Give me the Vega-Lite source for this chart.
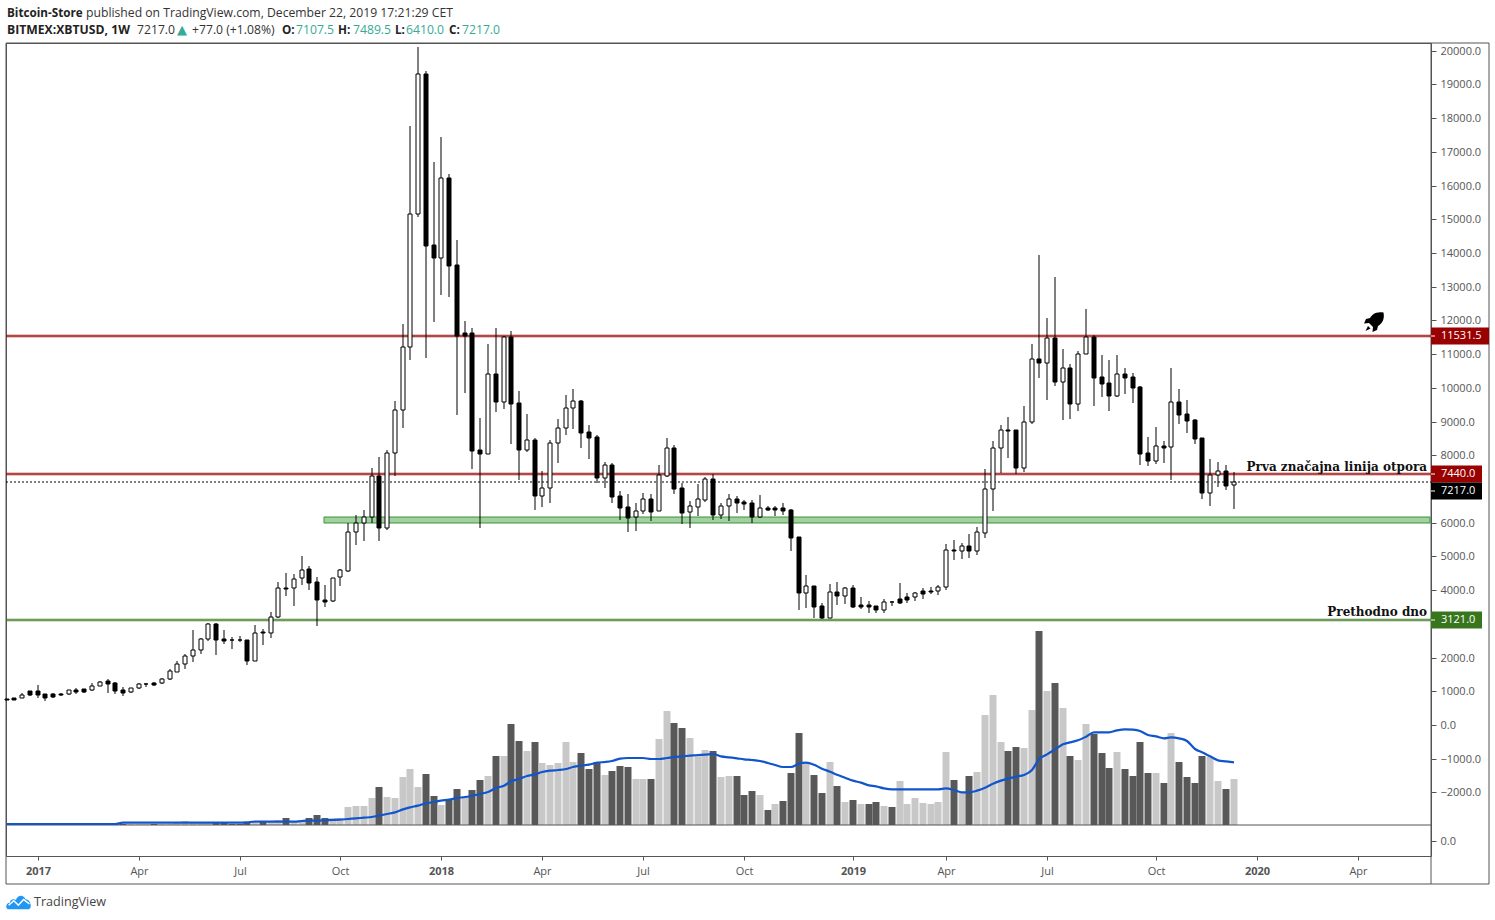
{"$schema":"https://vega.github.io/schema/vega-lite/v6.json","autosize":{"type":"none"},"padding":{"left":6,"top":43,"right":64,"bottom":64},"width":1425,"height":813,"background":"#ffffff","config":{"view":{"stroke":"#555555","strokeWidth":1},"axis":{"labelFont":"Open Sans","labelColor":"#555555","labelFontSize":11,"tickColor":"#555555","grid":false,"domain":false,"title":null}},
"datasets":{"weeks":[
{"date":"2016-12-05","open":770,"high":770,"low":750,"close":750,"volume":1,"ma":3,"side":"down"},
{"date":"2016-12-12","open":790,"high":790,"low":751,"close":751,"volume":1,"ma":3,"side":"down"},
{"date":"2016-12-19","open":790,"high":949,"low":790,"close":900,"volume":1,"ma":3,"side":"up"},
{"date":"2016-12-26","open":998,"high":1018,"low":870,"close":889,"volume":2,"ma":3,"side":"down"},
{"date":"2017-01-02","open":998,"high":1186,"low":800,"close":899,"volume":2,"ma":3,"side":"down"},
{"date":"2017-01-09","open":909,"high":909,"low":721,"close":800,"volume":1,"ma":3,"side":"down"},
{"date":"2017-01-16","open":909,"high":939,"low":800,"close":820,"volume":1,"ma":3,"side":"down"},
{"date":"2017-01-23","open":929,"high":959,"low":860,"close":889,"volume":1,"ma":3,"side":"down"},
{"date":"2017-01-30","open":909,"high":1048,"low":899,"close":1028,"volume":2,"ma":3,"side":"up"},
{"date":"2017-02-06","open":1028,"high":1087,"low":929,"close":988,"volume":2,"ma":3,"side":"down"},
{"date":"2017-02-13","open":1057,"high":1067,"low":959,"close":988,"volume":1,"ma":3,"side":"down"},
{"date":"2017-02-20","open":1048,"high":1235,"low":1018,"close":1166,"volume":2,"ma":3,"side":"up"},
{"date":"2017-02-27","open":1166,"high":1305,"low":1156,"close":1285,"volume":3,"ma":3,"side":"up"},
{"date":"2017-03-06","open":1295,"high":1364,"low":949,"close":1225,"volume":3,"ma":3,"side":"down"},
{"date":"2017-03-13","open":1235,"high":1265,"low":919,"close":1018,"volume":3,"ma":3,"side":"down"},
{"date":"2017-03-20","open":1028,"high":1117,"low":870,"close":959,"volume":3,"ma":7,"side":"down"},
{"date":"2017-03-27","open":968,"high":1107,"low":959,"close":1087,"volume":3,"ma":7,"side":"up"},
{"date":"2017-04-03","open":1087,"high":1235,"low":1077,"close":1206,"volume":4,"ma":7,"side":"up"},
{"date":"2017-04-10","open":1206,"high":1255,"low":1117,"close":1225,"volume":4,"ma":7,"side":"up"},
{"date":"2017-04-17","open":1245,"high":1285,"low":1166,"close":1196,"volume":4,"ma":7,"side":"down"},
{"date":"2017-04-24","open":1235,"high":1394,"low":1225,"close":1374,"volume":3,"ma":7,"side":"up"},
{"date":"2017-05-01","open":1374,"high":1660,"low":1334,"close":1591,"volume":4,"ma":7,"side":"up"},
{"date":"2017-05-08","open":1581,"high":1888,"low":1571,"close":1799,"volume":5,"ma":7,"side":"up"},
{"date":"2017-05-15","open":1799,"high":2096,"low":1670,"close":2036,"volume":13,"ma":7,"side":"up"},
{"date":"2017-05-22","open":2036,"high":2817,"low":1878,"close":2214,"volume":5,"ma":7,"side":"up"},
{"date":"2017-05-29","open":2214,"high":2570,"low":2105,"close":2540,"volume":5,"ma":7,"side":"up"},
{"date":"2017-06-05","open":2540,"high":3025,"low":2501,"close":2985,"volume":6,"ma":7,"side":"up"},
{"date":"2017-06-12","open":2985,"high":3025,"low":2076,"close":2531,"volume":9,"ma":7,"side":"down"},
{"date":"2017-06-19","open":2550,"high":2817,"low":2402,"close":2501,"volume":5,"ma":7,"side":"down"},
{"date":"2017-06-26","open":2521,"high":2610,"low":2254,"close":2511,"volume":4,"ma":7,"side":"down"},
{"date":"2017-07-03","open":2521,"high":2639,"low":2471,"close":2511,"volume":4,"ma":7,"side":"down"},
{"date":"2017-07-10","open":2511,"high":2511,"low":1789,"close":1908,"volume":7,"ma":8,"side":"down"},
{"date":"2017-07-17","open":1908,"high":2956,"low":1908,"close":2738,"volume":6,"ma":10,"side":"up"},
{"date":"2017-07-24","open":2748,"high":2847,"low":2372,"close":2718,"volume":8,"ma":10,"side":"down"},
{"date":"2017-07-31","open":2718,"high":3341,"low":2590,"close":3213,"volume":8,"ma":10,"side":"up"},
{"date":"2017-08-07","open":3213,"high":4231,"low":3183,"close":4073,"volume":16,"ma":10,"side":"up"},
{"date":"2017-08-14","open":4073,"high":4508,"low":3826,"close":4043,"volume":22,"ma":10,"side":"down"},
{"date":"2017-08-21","open":4053,"high":4468,"low":3529,"close":4340,"volume":8,"ma":10,"side":"up"},
{"date":"2017-08-28","open":4350,"high":5002,"low":4162,"close":4607,"volume":8,"ma":12,"side":"up"},
{"date":"2017-09-04","open":4617,"high":4706,"low":4004,"close":4221,"volume":22,"ma":13,"side":"down"},
{"date":"2017-09-11","open":4231,"high":4389,"low":2936,"close":3697,"volume":31,"ma":13,"side":"down"},
{"date":"2017-09-18","open":3697,"high":4152,"low":3509,"close":3658,"volume":22,"ma":14,"side":"down"},
{"date":"2017-09-25","open":3668,"high":4370,"low":3658,"close":4370,"volume":22,"ma":15,"side":"up"},
{"date":"2017-10-02","open":4379,"high":4617,"low":4132,"close":4587,"volume":22,"ma":16,"side":"up"},
{"date":"2017-10-09","open":4577,"high":5999,"low":4538,"close":5714,"volume":55,"ma":18,"side":"up"},
{"date":"2017-10-16","open":5714,"high":6228,"low":5339,"close":5981,"volume":58,"ma":20,"side":"up"},
{"date":"2017-10-23","open":5981,"high":6376,"low":5457,"close":6159,"volume":58,"ma":22,"side":"up"},
{"date":"2017-10-30","open":6159,"high":7622,"low":5999,"close":7375,"volume":82,"ma":24,"side":"up"},
{"date":"2017-11-06","open":7375,"high":7938,"low":5457,"close":5852,"volume":115,"ma":28,"side":"down"},
{"date":"2017-11-13","open":5852,"high":8156,"low":5783,"close":8057,"volume":85,"ma":33,"side":"up"},
{"date":"2017-11-20","open":8057,"high":9609,"low":7395,"close":9332,"volume":82,"ma":38,"side":"up"},
{"date":"2017-11-27","open":9332,"high":11893,"low":8818,"close":11201,"volume":145,"ma":47,"side":"up"},
{"date":"2017-12-04","open":11201,"high":17766,"low":10825,"close":15146,"volume":169,"ma":53,"side":"up"},
{"date":"2017-12-11","open":15146,"high":20099,"low":15076,"close":19298,"volume":115,"ma":58,"side":"up"},
{"date":"2017-12-18","open":19298,"high":19387,"low":10895,"close":14216,"volume":154,"ma":65,"side":"down"},
{"date":"2017-12-25","open":14226,"high":16698,"low":11962,"close":13860,"volume":88,"ma":69,"side":"down"},
{"date":"2018-01-01","open":13860,"high":17430,"low":12763,"close":16214,"volume":61,"ma":73,"side":"up"},
{"date":"2018-01-08","open":16214,"high":16342,"low":12704,"close":13623,"volume":76,"ma":76,"side":"down"},
{"date":"2018-01-15","open":13643,"high":14384,"low":9194,"close":11547,"volume":109,"ma":81,"side":"down"},
{"date":"2018-01-22","open":11626,"high":11982,"low":9856,"close":11547,"volume":84,"ma":84,"side":"up"},
{"date":"2018-01-29","open":11626,"high":11774,"low":7592,"close":8136,"volume":106,"ma":88,"side":"down"},
{"date":"2018-02-05","open":8156,"high":9105,"low":5852,"close":8047,"volume":136,"ma":93,"side":"down"},
{"date":"2018-02-12","open":8047,"high":11300,"low":8047,"close":10400,"volume":148,"ma":99,"side":"up"},
{"date":"2018-02-19","open":10400,"high":11774,"low":9293,"close":9589,"volume":208,"ma":111,"side":"down"},
{"date":"2018-02-26","open":9589,"high":11537,"low":9372,"close":11508,"volume":208,"ma":118,"side":"up"},
{"date":"2018-03-05","open":11508,"high":11686,"low":8334,"close":9530,"volume":304,"ma":131,"side":"down"},
{"date":"2018-03-12","open":9540,"high":9906,"low":7266,"close":8166,"volume":253,"ma":138,"side":"down"},
{"date":"2018-03-19","open":8166,"high":9224,"low":8106,"close":8443,"volume":223,"ma":147,"side":"up"},
{"date":"2018-03-26","open":8443,"high":8512,"low":6376,"close":6801,"volume":250,"ma":152,"side":"down"},
{"date":"2018-04-02","open":6801,"high":7533,"low":6475,"close":7019,"volume":187,"ma":159,"side":"up"},
{"date":"2018-04-09","open":7019,"high":8452,"low":6594,"close":8354,"volume":181,"ma":163,"side":"up"},
{"date":"2018-04-16","open":8354,"high":9075,"low":7770,"close":8798,"volume":187,"ma":165,"side":"up"},
{"date":"2018-04-23","open":8798,"high":9787,"low":8601,"close":9392,"volume":250,"ma":168,"side":"up"},
{"date":"2018-04-30","open":9392,"high":9965,"low":8779,"close":9599,"volume":190,"ma":174,"side":"up"},
{"date":"2018-05-07","open":9599,"high":9639,"low":8215,"close":8670,"volume":217,"ma":178,"side":"down"},
{"date":"2018-05-14","open":8680,"high":8897,"low":7889,"close":8522,"volume":169,"ma":181,"side":"down"},
{"date":"2018-05-21","open":8541,"high":8601,"low":7167,"close":7335,"volume":190,"ma":187,"side":"down"},
{"date":"2018-05-28","open":7335,"high":7790,"low":7029,"close":7701,"volume":151,"ma":189,"side":"up"},
{"date":"2018-06-04","open":7701,"high":7760,"low":6594,"close":6772,"volume":163,"ma":192,"side":"down"},
{"date":"2018-06-11","open":6792,"high":6940,"low":6080,"close":6446,"volume":178,"ma":199,"side":"down"},
{"date":"2018-06-18","open":6456,"high":6851,"low":5734,"close":6149,"volume":175,"ma":201,"side":"down"},
{"date":"2018-06-25","open":6159,"high":6574,"low":5764,"close":6337,"volume":139,"ma":201,"side":"up"},
{"date":"2018-07-02","open":6337,"high":6881,"low":6268,"close":6693,"volume":139,"ma":201,"side":"up"},
{"date":"2018-07-09","open":6693,"high":6851,"low":6050,"close":6327,"volume":139,"ma":198,"side":"down"},
{"date":"2018-07-16","open":6337,"high":7701,"low":6337,"close":7405,"volume":259,"ma":198,"side":"up"},
{"date":"2018-07-23","open":7395,"high":8502,"low":7365,"close":8206,"volume":343,"ma":201,"side":"up"},
{"date":"2018-07-30","open":8206,"high":8295,"low":6861,"close":7009,"volume":307,"ma":204,"side":"down"},
{"date":"2018-08-06","open":7019,"high":7167,"low":5971,"close":6297,"volume":292,"ma":206,"side":"down"},
{"date":"2018-08-13","open":6307,"high":6643,"low":5852,"close":6485,"volume":262,"ma":208,"side":"up"},
{"date":"2018-08-20","open":6475,"high":7138,"low":6199,"close":6693,"volume":208,"ma":210,"side":"up"},
{"date":"2018-08-27","open":6683,"high":7345,"low":6624,"close":7286,"volume":226,"ma":211,"side":"up"},
{"date":"2018-09-03","open":7286,"high":7434,"low":6090,"close":6238,"volume":223,"ma":213,"side":"down"},
{"date":"2018-09-10","open":6238,"high":6574,"low":6119,"close":6485,"volume":145,"ma":206,"side":"up"},
{"date":"2018-09-17","open":6485,"high":6851,"low":6060,"close":6693,"volume":148,"ma":203,"side":"up"},
{"date":"2018-09-24","open":6693,"high":6782,"low":6297,"close":6594,"volume":148,"ma":200,"side":"down"},
{"date":"2018-10-01","open":6614,"high":6673,"low":6386,"close":6564,"volume":91,"ma":197,"side":"down"},
{"date":"2018-10-08","open":6574,"high":6673,"low":5999,"close":6179,"volume":103,"ma":195,"side":"down"},
{"date":"2018-10-15","open":6179,"high":6812,"low":6149,"close":6426,"volume":91,"ma":192,"side":"up"},
{"date":"2018-10-22","open":6426,"high":6495,"low":6347,"close":6376,"volume":46,"ma":186,"side":"down"},
{"date":"2018-10-29","open":6426,"high":6495,"low":6199,"close":6386,"volume":64,"ma":180,"side":"up"},
{"date":"2018-11-05","open":6426,"high":6574,"low":6238,"close":6357,"volume":73,"ma":174,"side":"down"},
{"date":"2018-11-12","open":6367,"high":6406,"low":5170,"close":5556,"volume":157,"ma":174,"side":"down"},
{"date":"2018-11-19","open":5576,"high":5576,"low":3410,"close":3925,"volume":277,"ma":184,"side":"down"},
{"date":"2018-11-26","open":3925,"high":4449,"low":3480,"close":4112,"volume":187,"ma":187,"side":"up"},
{"date":"2018-12-03","open":4112,"high":4112,"low":3173,"close":3509,"volume":151,"ma":181,"side":"down"},
{"date":"2018-12-10","open":3519,"high":3618,"low":3134,"close":3173,"volume":97,"ma":169,"side":"down"},
{"date":"2018-12-17","open":3183,"high":4182,"low":3183,"close":3934,"volume":189,"ma":160,"side":"up"},
{"date":"2018-12-24","open":3934,"high":4231,"low":3559,"close":3835,"volume":117,"ma":151,"side":"down"},
{"date":"2018-12-31","open":3835,"high":4093,"low":3588,"close":4053,"volume":69,"ma":142,"side":"up"},
{"date":"2019-01-07","open":4053,"high":4152,"low":3470,"close":3509,"volume":75,"ma":133,"side":"down"},
{"date":"2019-01-14","open":3559,"high":3796,"low":3450,"close":3509,"volume":64,"ma":127,"side":"up"},
{"date":"2019-01-21","open":3559,"high":3677,"low":3331,"close":3509,"volume":63,"ma":119,"side":"down"},
{"date":"2019-01-28","open":3519,"high":3519,"low":3331,"close":3420,"volume":69,"ma":116,"side":"down"},
{"date":"2019-02-04","open":3420,"high":3737,"low":3331,"close":3638,"volume":57,"ma":110,"side":"up"},
{"date":"2019-02-11","open":3658,"high":3688,"low":3539,"close":3638,"volume":54,"ma":107,"side":"down"},
{"date":"2019-02-18","open":3727,"high":4211,"low":3598,"close":3618,"volume":132,"ma":107,"side":"up"},
{"date":"2019-02-25","open":3786,"high":3914,"low":3628,"close":3717,"volume":63,"ma":107,"side":"up"},
{"date":"2019-03-04","open":3786,"high":3944,"low":3668,"close":3905,"volume":81,"ma":107,"side":"up"},
{"date":"2019-03-11","open":3964,"high":4063,"low":3747,"close":3895,"volume":66,"ma":107,"side":"up"},
{"date":"2019-03-18","open":3964,"high":4083,"low":3895,"close":3944,"volume":63,"ma":107,"side":"up"},
{"date":"2019-03-25","open":3964,"high":4142,"low":3865,"close":4083,"volume":69,"ma":107,"side":"up"},
{"date":"2019-04-01","open":4083,"high":5368,"low":4013,"close":5180,"volume":219,"ma":110,"side":"up"},
{"date":"2019-04-08","open":5190,"high":5487,"low":4904,"close":5151,"volume":135,"ma":105,"side":"down"},
{"date":"2019-04-15","open":5151,"high":5388,"low":4933,"close":5299,"volume":99,"ma":98,"side":"up"},
{"date":"2019-04-22","open":5299,"high":5665,"low":4963,"close":5151,"volume":147,"ma":98,"side":"down"},
{"date":"2019-04-29","open":5151,"high":5863,"low":5042,"close":5715,"volume":159,"ma":103,"side":"up"},
{"date":"2019-05-06","open":5705,"high":7593,"low":5557,"close":6990,"volume":330,"ma":112,"side":"up"},
{"date":"2019-05-13","open":6990,"high":8414,"low":6357,"close":8206,"volume":390,"ma":124,"side":"up"},
{"date":"2019-05-20","open":8206,"high":8888,"low":7465,"close":8740,"volume":249,"ma":133,"side":"up"},
{"date":"2019-05-27","open":8750,"high":9136,"low":7929,"close":8730,"volume":222,"ma":139,"side":"down"},
{"date":"2019-06-03","open":8740,"high":8740,"low":7435,"close":7633,"volume":234,"ma":145,"side":"down"},
{"date":"2019-06-10","open":7633,"high":9462,"low":7514,"close":8978,"volume":231,"ma":150,"side":"up"},
{"date":"2019-06-17","open":8978,"high":11301,"low":8918,"close":10846,"volume":345,"ma":165,"side":"up"},
{"date":"2019-06-24","open":10846,"high":13941,"low":10302,"close":10747,"volume":582,"ma":197,"side":"down"},
{"date":"2019-07-01","open":10747,"high":12062,"low":9650,"close":11469,"volume":402,"ma":212,"side":"up"},
{"date":"2019-07-08","open":11469,"high":13278,"low":10065,"close":10184,"volume":426,"ma":227,"side":"down"},
{"date":"2019-07-15","open":10184,"high":11153,"low":9057,"close":10579,"volume":351,"ma":242,"side":"up"},
{"date":"2019-07-22","open":10579,"high":10708,"low":9086,"close":9531,"volume":207,"ma":248,"side":"down"},
{"date":"2019-07-29","open":9531,"high":11093,"low":9323,"close":10994,"volume":195,"ma":254,"side":"up"},
{"date":"2019-08-05","open":10994,"high":12329,"low":10994,"close":11518,"volume":303,"ma":265,"side":"up"},
{"date":"2019-08-12","open":11518,"high":11568,"low":9472,"close":10302,"volume":273,"ma":278,"side":"down"},
{"date":"2019-08-19","open":10312,"high":10975,"low":9739,"close":10124,"volume":216,"ma":278,"side":"down"},
{"date":"2019-08-26","open":10134,"high":10826,"low":9323,"close":9768,"volume":171,"ma":278,"side":"down"},
{"date":"2019-09-02","open":9768,"high":10965,"low":9739,"close":10401,"volume":219,"ma":284,"side":"up"},
{"date":"2019-09-09","open":10401,"high":10589,"low":9828,"close":10302,"volume":168,"ma":287,"side":"down"},
{"date":"2019-09-16","open":10312,"high":10441,"low":9561,"close":10006,"volume":147,"ma":286,"side":"down"},
{"date":"2019-09-23","open":10025,"high":10055,"low":7722,"close":8048,"volume":249,"ma":282,"side":"down"},
{"date":"2019-09-30","open":8058,"high":8542,"low":7692,"close":7840,"volume":156,"ma":270,"side":"down"},
{"date":"2019-10-07","open":7840,"high":8839,"low":7751,"close":8266,"volume":156,"ma":266,"side":"up"},
{"date":"2019-10-14","open":8266,"high":8424,"low":7781,"close":8226,"volume":126,"ma":260,"side":"down"},
{"date":"2019-10-21","open":8236,"high":10589,"low":7277,"close":9571,"volume":276,"ma":263,"side":"up"},
{"date":"2019-10-28","open":9571,"high":9966,"low":8938,"close":9205,"volume":189,"ma":260,"side":"down"},
{"date":"2019-11-04","open":9225,"high":9640,"low":8671,"close":9027,"volume":144,"ma":252,"side":"down"},
{"date":"2019-11-11","open":9047,"high":9076,"low":8345,"close":8493,"volume":126,"ma":228,"side":"down"},
{"date":"2019-11-18","open":8503,"high":8503,"low":6713,"close":6891,"volume":207,"ma":218,"side":"down"},
{"date":"2019-11-25","open":6891,"high":7880,"low":6506,"close":7405,"volume":204,"ma":206,"side":"up"},
{"date":"2019-12-02","open":7405,"high":7801,"low":7069,"close":7524,"volume":132,"ma":194,"side":"up"},
{"date":"2019-12-09","open":7524,"high":7712,"low":6970,"close":7099,"volume":108,"ma":191,"side":"down"},
{"date":"2019-12-16","open":7107.5,"high":7489.5,"low":6410,"close":7217,"volume":138,"ma":188,"side":"up"}
],
"tags":[
{"date":"2020-06-11","end":"2020-08-02","tickEnd":"2020-06-15","price":11531.5,"label":"11531.5","tag":"red"},
{"date":"2020-06-11","end":"2020-07-27","tickEnd":"2020-06-15","price":7440,"label":"7440.0","tag":"red"},
{"date":"2020-06-11","end":"2020-07-27","tickEnd":"2020-06-15","price":6931,"label":"7217.0","tag":"black"},
{"date":"2020-06-11","end":"2020-07-27","tickEnd":"2020-06-15","price":3121,"label":"3121.0","tag":"green"}
],
"notes":[
{"date":"2016-12-05","price":21119,"label":"Bitcoin-Store","style":"bold"},
{"date":"2017-02-14T14:00:00Z","price":21119,"label":"published on TradingView.com, December 22, 2019 17:21:29 CET","style":"plain"},
{"date":"2016-12-05","price":20600,"label":"BITMEX:XBTUSD, 1W","style":"boldwide"},
{"date":"2017-04-01T14:00:00Z","price":20600,"label":"7217.0","style":"plain"},
{"date":"2017-05-07T12:00:00Z","price":20600,"label":"▲","style":"triangle"},
{"date":"2017-05-21T10:00:00Z","price":20600,"label":"+77.0 (+1.08%)","style":"plain"},
{"date":"2017-08-10","price":20600,"label":"O:","style":"bold"},
{"date":"2017-08-22T22:00:00Z","price":20600,"label":"7107.5","style":"teal"},
{"date":"2017-09-30","price":20600,"label":"H:","style":"bold"},
{"date":"2017-10-13","price":20600,"label":"7489.5","style":"teal"},
{"date":"2017-11-20T10:00:00Z","price":20600,"label":"L:","style":"bold"},
{"date":"2017-11-30T08:00:00Z","price":20600,"label":"6410.0","style":"teal"},
{"date":"2018-01-08","price":20600,"label":"C:","style":"bold"},
{"date":"2018-01-19T04:00:00Z","price":20600,"label":"7217.0","style":"teal"},
{"date":"2016-12-30","price":-5235,"label":"TradingView","style":"brand"}
],
"callouts":[
{"date":"2020-06-07","price":7661,"label":"Prva značajna linija otpora"},
{"date":"2020-06-07","price":3351,"label":"Prethodno dno"}
],
"levels":[{"date":"2016-12-04T12:00:00Z","end":"2020-06-11","price":11531.5,"tag":"red"},{"date":"2016-12-04T12:00:00Z","end":"2020-06-11","price":7440,"tag":"red"},{"date":"2016-12-04T12:00:00Z","end":"2020-06-11","price":3121,"tag":"green"}]
},
"encoding":{"x":{"field":"date","type":"temporal","scale":{"type":"utc","domain":["2016-12-04T12:00:00Z","2020-06-11T00:00:00Z"],"nice":false,"round":true,"padding":0},"axis":{"values":[{"year":2017,"month":1,"date":2,"utc":true},{"year":2017,"month":4,"date":3,"utc":true},{"year":2017,"month":7,"date":3,"utc":true},{"year":2017,"month":10,"date":2,"utc":true},{"year":2018,"month":1,"date":1,"utc":true},{"year":2018,"month":4,"date":2,"utc":true},{"year":2018,"month":7,"date":2,"utc":true},{"year":2018,"month":10,"date":1,"utc":true},{"year":2019,"month":1,"date":7,"utc":true},{"year":2019,"month":4,"date":1,"utc":true},{"year":2019,"month":7,"date":1,"utc":true},{"year":2019,"month":10,"date":7,"utc":true},{"year":2020,"month":1,"date":6,"utc":true},{"year":2020,"month":4,"date":6,"utc":true}],"labelExpr":"utcmonth(datum.value)==0 ? ''+utcyear(datum.value) : utcFormat(datum.value,'%b')","labelFontWeight":{"condition":{"test":"utcmonth(datum.value)==0","value":"bold"},"value":"normal"},"tickSize":4,"labelPadding":5,"labelFlush":false,"labelOverlap":false,"title":null}}},
"resolve":{"scale":{"y":"independent"}},
"layer":[
{"data":{"name":"weeks"},"mark":{"type":"bar","size":7},"encoding":{"y":{"field":"volume","type":"quantitative","scale":{"domain":[-93,2346],"nice":false,"zero":false,"round":true,"padding":0},"axis":{"orient":"right","values":[-48],"labelExpr":"'0.0'","tickSize":5,"labelPadding":4,"title":null}},"y2":{"datum":0},"color":{"condition":{"test":"datum.side=='up'","value":"#c8c8c8"},"value":"#585858"}}},
{"data":{"values":[{"date":"2016-12-04T12:00:00Z","end":"2020-06-11","volume":0}]},"mark":{"type":"rule","color":"#555555","strokeWidth":1},"encoding":{"x2":{"field":"end"},"y":{"field":"volume","type":"quantitative","scale":{"domain":[-93,2346],"nice":false,"zero":false,"round":true},"axis":null}}},
{"data":{"name":"weeks"},"mark":{"type":"line","color":"#1155cc","strokeWidth":2.2,"interpolate":"monotone"},"encoding":{"y":{"field":"ma","type":"quantitative","scale":{"domain":[-93,2346],"nice":false,"zero":false},"axis":null}}},
{"data":{"values":[{"date":"2016-12-04T12:00:00Z","end":"2020-08-02","top":20228,"bottom":-4716}]},"mark":{"type":"rect","fillOpacity":0,"stroke":"#555555","strokeWidth":1},"encoding":{"x2":{"field":"end"},"y":{"field":"top","type":"quantitative","scale":{"domain":[-3885,20228],"nice":false,"zero":false,"round":true},"axis":{"orient":"right","values":[-2000,-1000,0,1000,2000,4000,5000,6000,8000,9000,10000,11000,12000,13000,14000,15000,16000,17000,18000,19000,20000],"format":".1f","tickSize":5,"labelPadding":4,"labelOffset":0.5,"labelOverlap":false,"labelBound":false,"title":null}},"y2":{"field":"bottom"}}},
{"data":{"values":[{"date":"2020-06-11","top":20228,"bottom":-4716}]},"mark":{"type":"rule","color":"#555555","strokeWidth":1},"encoding":{"y":{"field":"top","type":"quantitative","scale":{"domain":[-3885,20228],"nice":false,"zero":false,"round":true},"axis":null},"y2":{"field":"bottom"}}},
{"data":{"values":[{"date":"2017-09-17T14:00:00Z","end":"2020-06-10","top":6184,"bottom":6006}]},"mark":{"type":"rect","fill":"#a3cfa3","stroke":"#339933","strokeWidth":1},"encoding":{"x2":{"field":"end"},"y":{"field":"top","type":"quantitative","scale":{"domain":[-3885,20228],"nice":false,"zero":false,"round":true},"axis":null},"y2":{"field":"bottom"}}},
{"data":{"name":"levels"},"mark":{"type":"rule","strokeWidth":3,"opacity":0.45},"encoding":{"x2":{"field":"end"},"y":{"field":"price","type":"quantitative","scale":{"domain":[-3885,20228],"nice":false,"zero":false,"round":true},"axis":null},"color":{"field":"tag","type":"nominal","scale":{"domain":["red","green","black"],"range":["#990000","#38761d","#000000"]},"legend":null}}},
{"data":{"name":"levels"},"mark":{"type":"rule","strokeWidth":1},"encoding":{"x2":{"field":"end"},"y":{"field":"price","type":"quantitative","scale":{"domain":[-3885,20228],"nice":false,"zero":false,"round":true},"axis":null},"color":{"field":"tag","type":"nominal","legend":null}}},
{"data":{"values":[{"date":"2016-12-04T12:00:00Z","end":"2020-06-11","price":7217}]},"mark":{"type":"rule","color":"#000000","strokeWidth":1,"strokeDash":[2,2]},"encoding":{"x2":{"field":"end"},"y":{"field":"price","type":"quantitative","scale":{"domain":[-3885,20228],"nice":false,"zero":false,"round":true},"axis":null}}},
{"data":{"name":"weeks"},"mark":{"type":"rule","color":"#000000","strokeWidth":1},"encoding":{"y":{"field":"low","type":"quantitative","scale":{"domain":[-3885,20228],"nice":false,"zero":false,"round":true},"axis":null},"y2":{"field":"high"}}},
{"data":{"name":"weeks"},"mark":{"type":"bar","size":4,"stroke":"#000000","strokeWidth":1},"encoding":{"y":{"field":"open","type":"quantitative","scale":{"domain":[-3885,20228],"nice":false,"zero":false,"round":true},"axis":null},"y2":{"field":"close"},"fill":{"condition":{"test":"datum.close>=datum.open","value":"#ffffff"},"value":"#000000"}}},
{"data":{"name":"tags"},"mark":{"type":"bar","orient":"horizontal","size":17},"encoding":{"x2":{"field":"end"},"y":{"field":"price","type":"quantitative","scale":{"domain":[-3885,20228],"nice":false,"zero":false,"round":true,"padding":0},"axis":null},"color":{"field":"tag","type":"nominal","legend":null}}},
{"data":{"name":"tags"},"mark":{"type":"rule","color":"#ffffff","strokeWidth":1},"encoding":{"x2":{"field":"tickEnd"},"y":{"field":"price","type":"quantitative","scale":{"domain":[-3885,20228],"nice":false,"zero":false,"round":true},"axis":null}}},
{"data":{"name":"tags"},"mark":{"type":"text","align":"left","baseline":"middle","font":"Open Sans","fontSize":11,"color":"#ffffff","dx":10},"encoding":{"y":{"field":"price","type":"quantitative","scale":{"domain":[-3885,20228],"nice":false,"zero":false,"round":true},"axis":null},"text":{"field":"label"}}},
{"data":{"name":"notes"},"transform":[{"filter":"datum.style=='bold'"}],"mark":{"type":"text","align":"left","baseline":"middle","font":"Open Sans","fontSize":11.7,"fontWeight":"bold","color":"#222222"},"encoding":{"y":{"field":"price","type":"quantitative","scale":{"domain":[-3885,20228],"nice":false,"zero":false,"round":true},"axis":null},"text":{"field":"label"}}},
{"data":{"name":"notes"},"transform":[{"filter":"datum.style=='boldwide'"}],"mark":{"type":"text","align":"left","baseline":"middle","font":"Open Sans","fontSize":12.2,"fontWeight":"bold","color":"#222222"},"encoding":{"y":{"field":"price","type":"quantitative","scale":{"domain":[-3885,20228],"nice":false,"zero":false,"round":true},"axis":null},"text":{"field":"label"}}},
{"data":{"name":"notes"},"transform":[{"filter":"datum.style=='plain'"}],"mark":{"type":"text","align":"left","baseline":"middle","font":"Open Sans","fontSize":12.2,"color":"#333333"},"encoding":{"y":{"field":"price","type":"quantitative","scale":{"domain":[-3885,20228],"nice":false,"zero":false,"round":true},"axis":null},"text":{"field":"label"}}},
{"data":{"name":"notes"},"transform":[{"filter":"datum.style=='teal'"}],"mark":{"type":"text","align":"left","baseline":"middle","font":"Open Sans","fontSize":12.2,"color":"#35ab96"},"encoding":{"y":{"field":"price","type":"quantitative","scale":{"domain":[-3885,20228],"nice":false,"zero":false,"round":true},"axis":null},"text":{"field":"label"}}},
{"data":{"name":"notes"},"transform":[{"filter":"datum.style=='triangle'"}],"mark":{"type":"text","align":"left","baseline":"middle","font":"DejaVu Sans","fontSize":13,"color":"#35ab96"},"encoding":{"y":{"field":"price","type":"quantitative","scale":{"domain":[-3885,20228],"nice":false,"zero":false,"round":true},"axis":null},"text":{"field":"label"}}},
{"data":{"name":"notes"},"transform":[{"filter":"datum.style=='brand'"}],"mark":{"type":"text","align":"left","baseline":"middle","font":"Open Sans","fontSize":12.6,"color":"#444444"},"encoding":{"y":{"field":"price","type":"quantitative","scale":{"domain":[-3885,20228],"nice":false,"zero":false,"round":true},"axis":null},"text":{"field":"label"}}},
{"data":{"name":"callouts"},"mark":{"type":"text","align":"right","baseline":"middle","font":"DejaVu Serif","fontSize":12,"fontWeight":"bold","color":"#111111"},"encoding":{"y":{"field":"price","type":"quantitative","scale":{"domain":[-3885,20228],"nice":false,"zero":false,"round":true},"axis":null},"text":{"field":"label"}}},
{"data":{"values":[{"date":"2020-04-20T10:00:00Z","price":11953}]},"mark":{"type":"point","shape":"M0.95,-0.95 C0.2,-1.1 -0.2,-0.75 -0.4,-0.4 L-0.8,-0.3 L-1,0.15 L-0.5,0.1 L-0.1,0.5 L-0.15,1 L0.3,0.8 L0.4,0.4 C0.75,0.2 1.1,-0.2 0.95,-0.95 Z M-0.6,0.4 L-0.35,0.65 L-0.85,0.9 Z","filled":true,"size":400,"color":"#000000","opacity":1},"encoding":{"y":{"field":"price","type":"quantitative","scale":{"domain":[-3885,20228],"nice":false,"zero":false,"round":true},"axis":null}}},
{"data":{"values":[{"date":"2016-12-16","price":-5235}]},"mark":{"type":"point","shape":"M-0.8,0.55 C-1.05,0.55 -1.05,0.05 -0.7,0.05 C-0.7,-0.2 -0.4,-0.3 -0.25,-0.15 C-0.1,-0.55 0.35,-0.6 0.5,-0.2 C0.9,-0.25 1.05,0.55 0.75,0.55 Z","filled":true,"size":676,"color":"#2196f3","opacity":1},"encoding":{"y":{"field":"price","type":"quantitative","scale":{"domain":[-3885,20228],"nice":false,"zero":false,"round":true},"axis":null}}},
{"data":{"values":[{"date":"2016-12-16","price":-5235}]},"mark":{"type":"point","shape":"M-0.8,0.25 L-0.4,-0.1 L-0.05,0.25 L0.35,-0.2 L0.8,0.15","filled":false,"size":676,"color":"#ffffff","strokeWidth":1.5,"opacity":1},"encoding":{"y":{"field":"price","type":"quantitative","scale":{"domain":[-3885,20228],"nice":false,"zero":false,"round":true},"axis":null}}}
]}
